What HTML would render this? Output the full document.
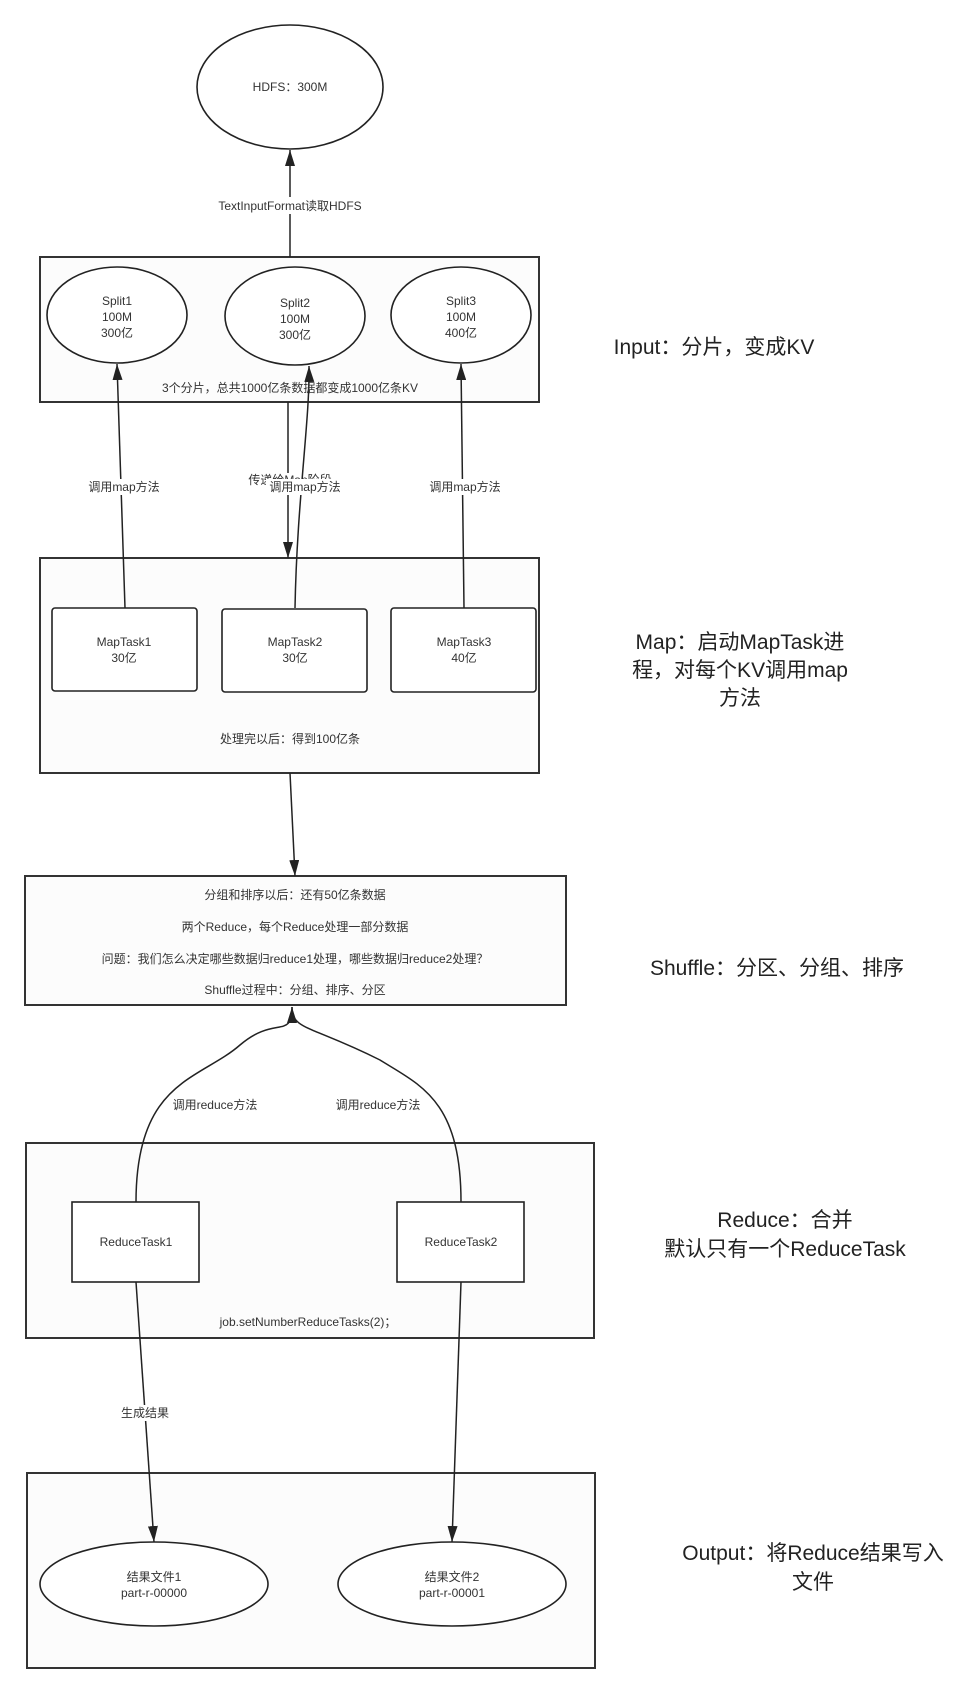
<!DOCTYPE html>
<html><head><meta charset="utf-8"><style>
html,body{margin:0;padding:0;background:#fff;}
svg{display:block;}
text{font-family:"Liberation Sans","Noto Sans CJK SC",sans-serif;font-size:12px;fill:#333;text-anchor:middle;}
.big{font-size:21px;fill:#222;}
.s{fill:none;stroke:#222;stroke-width:1.5;}
.b{fill:#fcfcfc;stroke:#333;stroke-width:2;}
.n{fill:#fff;stroke:#222;stroke-width:1.6;}
.lbl{fill:#fff;}
</style></head><body>
<svg width="976" height="1693" viewBox="0 0 976 1693" xmlns="http://www.w3.org/2000/svg">
<defs>
<marker id="h" viewBox="0 0 16 10" markerWidth="16" markerHeight="10" refX="16" refY="5" orient="auto" markerUnits="userSpaceOnUse"><path d="M0,0 L16,5 L0,10 Z" fill="#222"/></marker></defs>

<!-- containers -->
<rect class="b" x="40" y="257" width="499" height="145"/>
<rect class="b" x="40" y="558" width="499" height="215"/>
<rect class="b" x="25" y="876" width="541" height="129"/>
<rect class="b" x="26" y="1143" width="568" height="195"/>
<rect class="b" x="27" y="1473" width="568" height="195"/>

<!-- connectors -->
<line class="s" x1="290" y1="257" x2="290" y2="150" marker-end="url(#h)"/>
<line class="s" x1="288" y1="402" x2="288" y2="558" marker-end="url(#h)"/>
<rect class="lbl" x="240" y="473" width="100" height="14"/>
<text x="290" y="484">传递给Map阶段</text>
<line class="s" x1="125" y1="608" x2="117" y2="364" marker-end="url(#h)"/>
<path class="s" d="M295,608 C297,500 310,420 309,366" marker-end="url(#h)"/>
<line class="s" x1="464" y1="608" x2="461" y2="364" marker-end="url(#h)"/>
<line class="s" x1="290" y1="773" x2="295" y2="876" marker-end="url(#h)"/>
<path class="s" d="M136,1202 C136,1080 200,1080 240,1045 C275,1015 292,1040 292,1007" marker-end="url(#h)"/>
<path class="s" d="M461,1202 C461,1100 420,1085 380,1060 C310,1025 292,1030 292,1007"/>
<line class="s" x1="136" y1="1282" x2="154" y2="1542" marker-end="url(#h)"/>
<line class="s" x1="461" y1="1282" x2="452" y2="1542" marker-end="url(#h)"/>

<!-- labels -->
<rect class="lbl" x="205" y="197" width="170" height="17"/>
<text x="290" y="210">TextInputFormat读取HDFS</text>
<rect class="lbl" x="84" y="479" width="80" height="16"/><text x="124" y="491">调用map方法</text>
<rect class="lbl" x="266" y="479" width="78" height="16"/><text x="305" y="491">调用map方法</text>
<rect class="lbl" x="425" y="479" width="80" height="16"/><text x="465" y="491">调用map方法</text>
<rect class="lbl" x="170" y="1097" width="90" height="16"/><text x="215" y="1109">调用reduce方法</text>
<rect class="lbl" x="333" y="1097" width="90" height="16"/><text x="378" y="1109">调用reduce方法</text>
<rect class="lbl" x="118" y="1405" width="56" height="16"/><text x="145" y="1417">生成结果</text>

<!-- HDFS -->
<ellipse class="n" cx="290" cy="87" rx="93" ry="62"/>
<text x="290" y="91">HDFS：300M</text>

<!-- Input -->
<ellipse class="n" cx="117" cy="315" rx="70" ry="48"/>
<text x="117" y="305">Split1</text><text x="117" y="321">100M</text><text x="117" y="337">300亿</text>
<ellipse class="n" cx="295" cy="316" rx="70" ry="49"/>
<text x="295" y="307">Split2</text><text x="295" y="323">100M</text><text x="295" y="339">300亿</text>
<ellipse class="n" cx="461" cy="315" rx="70" ry="48"/>
<text x="461" y="305">Split3</text><text x="461" y="321">100M</text><text x="461" y="337">400亿</text>
<text x="290" y="392">3个分片，总共1000亿条数据都变成1000亿条KV</text>
<text class="big" x="714" y="354">Input：分片，变成KV</text>

<!-- Map -->
<rect class="n" x="52" y="608" width="145" height="83" rx="3"/>
<text x="124" y="646">MapTask1</text><text x="124" y="662">30亿</text>
<rect class="n" x="222" y="609" width="145" height="83" rx="3"/>
<text x="295" y="646">MapTask2</text><text x="295" y="662">30亿</text>
<rect class="n" x="391" y="608" width="145" height="84" rx="3"/>
<text x="464" y="646">MapTask3</text><text x="464" y="662">40亿</text>
<text x="290" y="743">处理完以后：得到100亿条</text>
<text class="big" x="740" y="649">Map：启动MapTask进</text>
<text class="big" x="740" y="677">程，对每个KV调用map</text>
<text class="big" x="740" y="705">方法</text>

<!-- Shuffle -->
<text x="295" y="899">分组和排序以后：还有50亿条数据</text>
<text x="295" y="931">两个Reduce，每个Reduce处理一部分数据</text>
<text x="295" y="963">问题：我们怎么决定哪些数据归reduce1处理，哪些数据归reduce2处理？</text>
<text x="295" y="994">Shuffle过程中：分组、排序、分区</text>
<text class="big" x="777" y="975">Shuffle：分区、分组、排序</text>

<!-- Reduce -->
<rect class="n" x="72" y="1202" width="127" height="80"/>
<text x="136" y="1246">ReduceTask1</text>
<rect class="n" x="397" y="1202" width="127" height="80"/>
<text x="461" y="1246">ReduceTask2</text>
<text x="308" y="1326">job.setNumberReduceTasks(2)；</text>
<text class="big" x="785" y="1227">Reduce：合并</text>
<text class="big" x="785" y="1256">默认只有一个ReduceTask</text>

<!-- Output -->
<ellipse class="n" cx="154" cy="1584" rx="114" ry="42"/>
<text x="154" y="1581">结果文件1</text><text x="154" y="1597">part-r-00000</text>
<ellipse class="n" cx="452" cy="1584" rx="114" ry="42"/>
<text x="452" y="1581">结果文件2</text><text x="452" y="1597">part-r-00001</text>
<text class="big" x="813" y="1560">Output：将Reduce结果写入</text>
<text class="big" x="813" y="1589">文件</text>
</svg>
</body></html>
